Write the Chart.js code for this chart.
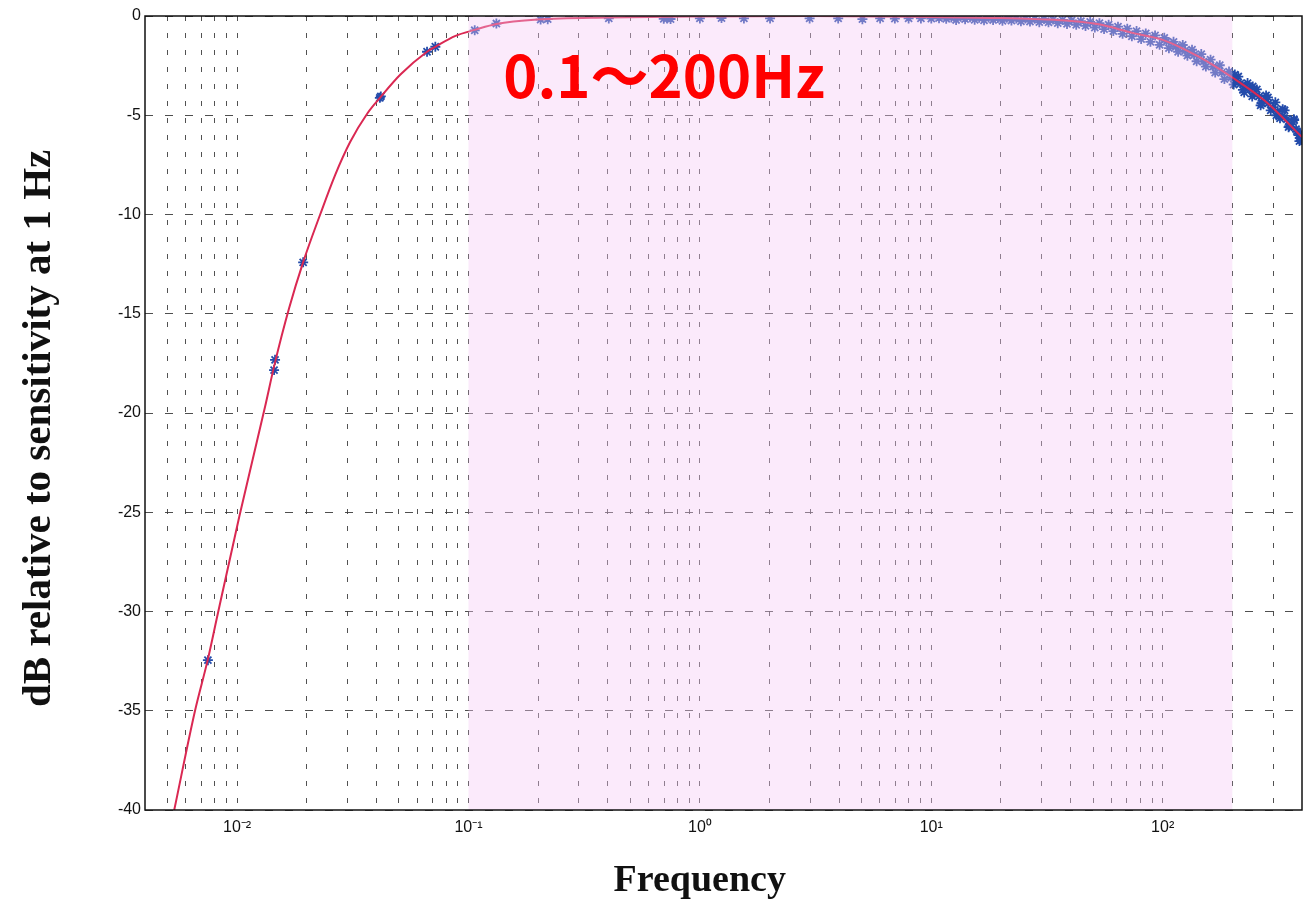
<!DOCTYPE html>
<html lang="en">
<head>
<meta charset="UTF-8">
<title>Frequency response</title>
<script src="https://cdn.jsdelivr.net/npm/chart.js"></script>
<style>
  body { margin: 0; background: #fff; }
</style>
</head>
<body>
<canvas id="respChart" width="1310" height="904"></canvas>
<script>
// measured points (Hz / dB)
const measFreq = [0.00748, 0.01445, 0.01459, 0.0193, 0.0414, 0.0418, 0.0662, 0.0719, 0.1064, 0.132,
  0.205, 0.220, 0.404, 0.698, 0.722, 0.747, 1.0, 1.24, 1.55, 2.01,
  2.98, 3.96, 5.04, 6.01, 6.96, 7.98, 9.02, 10.0, 10.8, 11.6,
  12.2, 12.8, 13.4, 14.0, 14.7, 15.4, 16.1, 16.9, 17.7, 18.5,
  19.4, 20.3, 21.2, 22.2, 23.3, 24.4, 25.5, 26.7, 28.0, 29.3,
  30.7, 32.1, 33.6, 35.2, 36.9, 38.6, 40.4, 42.3, 44.3, 46.4,
  48.6, 50.9, 53.3, 55.8, 58.4, 61.2, 64.1, 67.1, 70.3, 73.6,
  77.1, 80.7, 84.5, 88.5, 92.7, 97.0, 101.6, 106.4, 111.4, 116.6,
  122.1, 127.9, 133.9, 140.2, 146.8, 153.7, 161.0, 168.6, 176.5, 184.8,
  193.5, 202.7, 212.2, 222.2, 232.7, 243.7, 255.2, 267.2, 279.8, 293.0,
  306.8, 321.3, 336.4, 352.3, 368.9, 386.3, 400,
  104, 114, 125, 137, 150, 165, 180, 198, 207, 217,
  227, 238, 249, 261, 273, 286, 300, 314, 329, 344,
  360, 377, 380, 393, 396, 205, 225, 245, 265, 285,
  310, 330, 350, 370, 390];
const measDb = [-32.45, -17.84, -17.32, -12.41, -4.12, -4.05, -1.80, -1.55, -0.72, -0.38,
  -0.18, -0.16, -0.12, -0.14, -0.12, -0.15, -0.12, -0.10, -0.12, -0.12,
  -0.12, -0.12, -0.16, -0.12, -0.13, -0.12, -0.12, -0.13, -0.11, -0.14,
  -0.08, -0.20, -0.04, -0.16, -0.06, -0.19, -0.09, -0.22, -0.07, -0.20,
  -0.10, -0.24, -0.09, -0.23, -0.12, -0.27, -0.12, -0.28, -0.14, -0.31,
  -0.15, -0.32, -0.18, -0.36, -0.20, -0.40, -0.22, -0.44, -0.26, -0.50,
  -0.30, -0.58, -0.36, -0.66, -0.44, -0.76, -0.54, -0.90, -0.64, -1.02,
  -0.76, -1.16, -0.88, -1.30, -0.98, -1.45, -1.10, -1.62, -1.30, -1.80,
  -1.46, -2.00, -1.70, -2.28, -1.92, -2.55, -2.20, -2.85, -2.48, -3.18,
  -2.80, -3.45, -3.05, -3.72, -3.38, -4.05, -3.70, -4.40, -4.00, -4.75,
  -4.35, -5.15, -4.75, -5.55, -5.20, -6.00, -6.15,
  -1.28, -1.55, -1.75, -1.95, -2.30, -2.55, -2.85, -3.10, -3.25, -3.40,
  -3.55, -3.70, -3.90, -4.05, -4.25, -4.40, -4.60, -4.80, -5.05, -5.20,
  -5.45, -5.70, -5.80, -5.95, -6.25, -2.95, -3.85, -3.55, -4.50, -4.10,
  -5.00, -4.70, -5.60, -5.25, -6.30];

// fitted response curve
const curveFreq = [0.00535, 0.00658, 0.00748, 0.00824, 0.01023, 0.0132, 0.01452, 0.0168, 0.0193, 0.02286,
  0.02655, 0.0308, 0.0366, 0.0416, 0.0508, 0.0662, 0.0719, 0.0879, 0.1064, 0.132,
  0.2, 0.4, 1, 3, 10, 20, 30, 40, 53, 74,
  100, 143, 200, 278, 400];
const curveDb = [-40, -35, -32.4, -30.15, -25.2, -19.7, -17.55, -14.7, -12.4, -10.0,
  -8.0, -6.35, -4.9, -4.1, -2.95, -1.8, -1.55, -1.0, -0.7, -0.4,
  -0.17, -0.07, -0.02, 0, -0.05, -0.1, -0.17, -0.25, -0.42, -0.85,
  -1.2, -2.05, -3.1, -4.3, -6.1];

// axes
const decadeTicks = [0.01, 0.1, 1, 10, 100];
const decadeLabels = ['10⁻²', '10⁻¹', '10⁰', '10¹', '10²'];
const minorTicks = [0.005, 0.006, 0.007, 0.008, 0.009,
  0.02, 0.03, 0.04, 0.05, 0.06, 0.07, 0.08, 0.09,
  0.2, 0.3, 0.4, 0.5, 0.6, 0.7, 0.8, 0.9,
  2, 3, 4, 5, 6, 7, 8, 9,
  20, 30, 40, 50, 60, 70, 80, 90,
  200, 300];
const dbTicks = [0, -5, -10, -15, -20, -25, -30, -35, -40];

// highlighted band
const bandLow = 0.1;
const bandHigh = 200;
const bandLabel = '0.1～200Hz';
const labelFreq = 0.7;
const labelDb = -3;

const xTicks = decadeTicks.concat(minorTicks).sort((a, b) => a - b);

const bandPlugin = {
  id: 'band',
  afterDatasetsDraw(chart) {
    const ctx = chart.ctx;
    const {top, bottom} = chart.chartArea;
    const x = chart.scales.x, y = chart.scales.y;
    const x0 = x.getPixelForValue(bandLow);
    const x1 = x.getPixelForValue(bandHigh);
    ctx.save();
    ctx.fillStyle = 'rgba(245, 200, 245, 0.38)';
    ctx.fillRect(x0, top, x1 - x0, bottom - top);
    ctx.fillStyle = '#ff0000';
    ctx.font = 'bold 58px "Noto Sans CJK JP", "Noto Sans", sans-serif';
    ctx.textAlign = 'center';
    ctx.textBaseline = 'middle';
    ctx.fillText(bandLabel, x.getPixelForValue(labelFreq), y.getPixelForValue(labelDb));
    ctx.restore();
  },
  afterDraw(chart) {
    const ctx = chart.ctx;
    const {left, top, width, height} = chart.chartArea;
    ctx.save();
    ctx.strokeStyle = '#111';
    ctx.lineWidth = 1.5;
    ctx.strokeRect(left, top, width, height);
    ctx.restore();
  }
};

new Chart(document.getElementById('respChart'), {
  type: 'scatter',
  data: {
    datasets: [{
      label: 'fit',
      data: curveFreq.map((f, i) => ({x: f, y: curveDb[i]})),
      showLine: true,
      borderColor: 'rgb(218, 40, 82)',
      borderWidth: 2,
      pointRadius: 0,
      cubicInterpolationMode: 'monotone',
      order: 0
    }, {
      label: 'measured',
      data: measFreq.map((f, i) => ({x: f, y: measDb[i]})),
      pointStyle: 'star',
      pointRadius: 5,
      borderColor: 'rgb(35, 75, 170)',
      backgroundColor: 'rgb(35, 75, 170)',
      pointBorderWidth: 1.8,
      order: 1
    }]
  },
  options: {
    responsive: false,
    animation: false,
    layout: { padding: { top: 16, right: 8, left: 0, bottom: 0 } },
    plugins: { legend: { display: false }, tooltip: { enabled: false } },
    scales: {
      x: {
        type: 'logarithmic',
        min: 0.004,
        max: 400,
        afterBuildTicks: s => { s.ticks = xTicks.map(v => ({value: v})); },
        afterFit: s => { s.height = 94; },
        ticks: {
          autoSkip: false,
          maxRotation: 0,
          padding: 8,
          color: '#111',
          font: { family: 'Liberation Sans', size: 16 },
          callback: v => {
            const i = decadeTicks.indexOf(v);
            return i >= 0 ? decadeLabels[i] : '';
          }
        },
        grid: { color: 'rgba(50,50,50,0.85)', lineWidth: 1, drawTicks: false },
        border: { display: false, dash: [5, 12] },
        title: {
          display: true,
          text: 'Frequency     ',
          color: '#111',
          font: { family: 'Liberation Serif', size: 38, weight: 'bold' },
          padding: { top: 0, bottom: 0 }
        }
      },
      y: {
        min: -40,
        max: 0,
        afterBuildTicks: s => { s.ticks = dbTicks.map(v => ({value: v})); },
        afterFit: s => { s.width = 145; },
        ticks: {
          padding: 4,
          color: '#111',
          font: { family: 'Liberation Sans', size: 16 }
        },
        grid: { color: 'rgba(60,60,60,0.9)', lineWidth: 1, drawTicks: false },
        border: { display: false, dash: [8, 12] },
        title: {
          display: true,
          text: 'dB relative to sensitivity at 1 Hz   ',
          color: '#111',
          font: { family: 'Liberation Serif', size: 41, weight: 'bold' },
          padding: { top: 15, bottom: 0 }
        }
      }
    }
  },
  plugins: [bandPlugin]
});
</script>
</body>
</html>
